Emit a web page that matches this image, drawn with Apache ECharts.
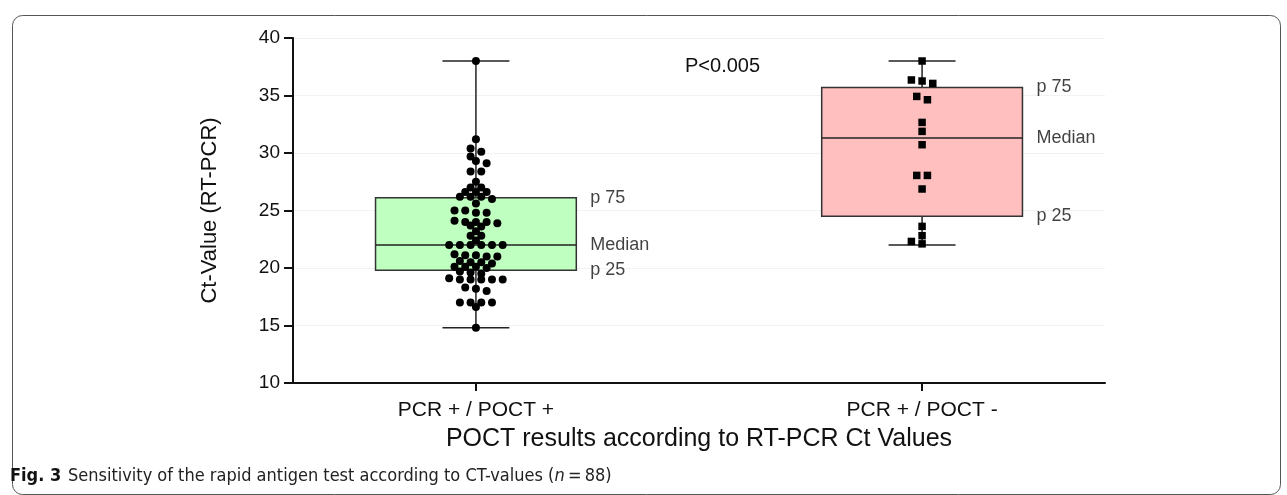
<!DOCTYPE html>
<html>
<head>
<meta charset="utf-8">
<script src="https://cdn.jsdelivr.net/npm/echarts@6/dist/echarts.min.js"></script>
<style>
html,body{margin:0;padding:0;background:#fff;}
#chart{width:1287px;height:495px;}
</style>
</head>
<body>
<div id="chart"></div>
<script>
// ---------------- DATA ----------------
const categories = ['PCR + / POCT +', 'PCR + / POCT -'];
const categoryPositions = [0, 1];
// Ct values, POCT positive (72 samples)
const posValues = [
  38.0, 31.2, 30.4, 30.1, 29.7, 29.3, 29.1, 28.4, 28.4, 27.5,
  27.0, 27.0, 26.6, 26.6, 26.6, 26.2, 26.2, 26.2, 26.0, 25.6,
  25.0, 25.0, 24.8, 24.8,
  24.1, 24.0, 24.0, 24.0, 23.9, 23.7, 23.6,
  23.2, 22.8, 22.8, 22.4,
  22.0, 22.0, 22.0, 22.0, 22.0, 22.0,
  21.2, 21.1, 21.1, 21.0, 21.0,
  20.6, 20.5, 20.5, 20.4,
  20.1, 20.1, 20.1, 20.0,
  19.7, 19.6, 19.5,
  19.1, 19.0, 19.0, 19.0, 19.0, 19.0,
  18.3, 18.2, 18.0,
  17.0, 17.0, 17.0, 17.0, 16.6,
  14.8
];
// Ct values, POCT negative (16 samples)
const negValues = [
  38.0, 36.35, 36.26, 36.05, 34.92, 34.63, 32.66, 31.88,
  30.72, 28.05, 28.05, 26.87, 23.62, 22.81, 22.31, 22.1
];
// box statistics [min, p25, median, p75, max]
const posBox = [14.8, 19.8, 22.0, 26.1, 38.0];
const negBox = [22.0, 24.5, 31.3, 35.7, 38.0];
const boxLabels = ['p 25', 'Median', 'p 75'];
const yTicks = {min: 10, max: 40, interval: 5};
const pValueText = 'P<0.005';
const yAxisTitle = 'Ct-Value (RT-PCR)';
const xAxisTitle = 'POCT results according to RT-PCR Ct Values';
const captionBold = 'Fig. 3';
const captionText = 'Sensitivity of the rapid antigen test according to CT-values (';
const captionN = 'n';
const captionEnd = '\u2009=\u200988)';

// ---------------- LAYOUT ----------------
const GRID = {left: 293, top: 38, width: 812, height: 345};
const X_MIN = -0.41, X_MAX = 1.41;
const pxPerX = GRID.width / (X_MAX - X_MIN);
const pxPerY = GRID.height / (yTicks.max - yTicks.min);
const BOX_HALF = 0.225;
const CAP_HALF = 0.075;

// row-based scatter ("beeswarm"): close values share a row centred on the category;
// a row may slide half a step sideways to avoid sitting on top of a neighbouring row
function swarm(values, center, spacingPx, tol) {
  const sorted = values.slice().sort((a, b) => b - a);
  const rows = [];
  sorted.forEach(v => {
    const r = rows[rows.length - 1];
    if (r && r[0] - v <= tol + 1e-9) r.push(v); else rows.push([v]);
  });
  const placed = [];
  const out = [];
  rows.forEach(r => {
    const k = r.length;
    const base = r.map((v, i) => (i - (k - 1) / 2) * spacingPx);
    let best = 0, bestScore = Infinity;
    [0, spacingPx / 2, -spacingPx / 2].forEach(shift => {
      if (k >= 6 && shift !== 0) return;
      let score = Math.abs(shift) * 0.01;
      r.forEach((v, i) => {
        const x = base[i] + shift, y = v * pxPerY;
        placed.forEach(p => {
          const dx = Math.abs(p[0] - x), dy = Math.abs(p[1] - y);
          if (dy < 8 && dx < 8) score += (8 - dx) * (8 - dy);
        });
      });
      if (score < bestScore) { bestScore = score; best = shift; }
    });
    r.forEach((v, i) => {
      const x = base[i] + best;
      placed.push([x, v * pxPerY]);
      out.push([center + x / pxPerX, v]);
    });
  });
  return out;
}

const posPoints = swarm(posValues, categoryPositions[0], 10.7, 0.35);
const negPoints = swarm(negValues, categoryPositions[1], 10.7, 0.35);

const boxData = [
  [categoryPositions[0]].concat(posBox),
  [categoryPositions[1]].concat(negBox)
];
const boxColors = ['#bfffbf', '#ffbfbf'];

const labelData = [];
boxData.forEach(b => {
  labelData.push([b[0] + BOX_HALF, b[2], boxLabels[0]]);
  labelData.push([b[0] + BOX_HALF, b[3], boxLabels[1]]);
  labelData.push([b[0] + BOX_HALF, b[4], boxLabels[2]]);
});

const FONT = "'Liberation Sans', Arial, sans-serif";
const CAPFONT = "'Liberation Sans Narrow', 'DejaVu Sans Condensed', sans-serif";

const chart = echarts.init(document.getElementById('chart'), null, {renderer: 'canvas'});

chart.setOption({
  backgroundColor: '#ffffff',
  animation: false,
  grid: {left: GRID.left, top: GRID.top, width: GRID.width, height: GRID.height, containLabel: false, outerBoundsMode: 'none'},
  title: {
    text: pValueText, left: 680, top: 51,
    textStyle: {fontFamily: FONT, fontSize: 20, fontWeight: 'normal', color: '#111'}
  },
  xAxis: {
    type: 'value', min: X_MIN, max: X_MAX,
    splitLine: {show: false},
    axisLine: {show: true, onZero: false, lineStyle: {color: '#111', width: 2}},
    axisTick: {show: true, customValues: categoryPositions, length: 8, lineStyle: {color: '#111', width: 2}},
    axisLabel: {
      show: true, customValues: categoryPositions, margin: 17,
      fontFamily: FONT, fontSize: 21, color: '#111',
      formatter: v => categories[Math.round(v)] || ''
    },
    name: xAxisTitle, nameLocation: 'middle', nameGap: 44,
    nameTextStyle: {fontFamily: FONT, fontSize: 25, color: '#111'}
  },
  yAxis: {
    type: 'value', min: yTicks.min, max: yTicks.max, interval: yTicks.interval,
    axisLine: {show: true, onZero: false, lineStyle: {color: '#111', width: 2}},
    axisTick: {show: true, length: 9, lineStyle: {color: '#111', width: 2}},
    axisLabel: {fontFamily: FONT, fontSize: 19, color: '#111', margin: 13},
    splitLine: {show: true, lineStyle: {color: '#f2f2f2', width: 1}},
    name: yAxisTitle, nameLocation: 'middle', nameGap: 72, nameRotate: 90,
    nameTextStyle: {fontFamily: FONT, fontSize: 22, color: '#111'}
  },
  series: [
    {
      type: 'custom',
      data: boxData,
      z: 2,
      renderItem: function (params, api) {
        const x = api.value(0);
        const mn = api.value(1), q1 = api.value(2), md = api.value(3), q3 = api.value(4), mx = api.value(5);
        const tl = api.coord([x - BOX_HALF, q3]);
        const br = api.coord([x + BOX_HALF, q1]);
        const cMid = api.coord([x, md]);
        const cMin = api.coord([x, mn]);
        const cMax = api.coord([x, mx]);
        const cq1 = api.coord([x, q1]);
        const cq3 = api.coord([x, q3]);
        const capL = api.coord([x - CAP_HALF, mn])[0];
        const capR = api.coord([x + CAP_HALF, mn])[0];
        const lineStyle = {stroke: '#222', lineWidth: 1.5};
        return {
          type: 'group',
          children: [
            {type: 'line', shape: {x1: cMax[0], y1: cMax[1], x2: cq3[0], y2: cq3[1]}, style: lineStyle},
            {type: 'line', shape: {x1: cMin[0], y1: cMin[1], x2: cq1[0], y2: cq1[1]}, style: lineStyle},
            {type: 'line', shape: {x1: capL, y1: cMax[1], x2: capR, y2: cMax[1]}, style: lineStyle},
            {type: 'line', shape: {x1: capL, y1: cMin[1], x2: capR, y2: cMin[1]}, style: lineStyle},
            {type: 'rect', shape: {x: tl[0], y: tl[1], width: br[0] - tl[0], height: br[1] - tl[1]},
              style: {fill: boxColors[params.dataIndex], stroke: '#333', lineWidth: 1.5}},
            {type: 'line', shape: {x1: tl[0], y1: cMid[1], x2: br[0], y2: cMid[1]}, style: lineStyle}
          ]
        };
      }
    },
    {
      type: 'scatter', data: posPoints, symbol: 'circle', symbolSize: 8, z: 5,
      itemStyle: {color: '#000', opacity: 1}
    },
    {
      type: 'scatter', data: negPoints, symbol: 'rect', symbolSize: 7.5, z: 5,
      itemStyle: {color: '#000', opacity: 1}
    },
    {
      type: 'scatter', data: labelData, symbolSize: 0, z: 6, silent: true,
      label: {
        show: true, position: 'right', distance: 14,
        fontFamily: FONT, fontSize: 18, color: '#111',
        formatter: p => p.data[2]
      }
    }
  ],
  graphic: [
    {
      type: 'rect', left: 10, top: 13, silent: true, z: -10,
      shape: {width: 1268, height: 479, r: 10},
      style: {fill: 'none', stroke: '#555', lineWidth: 1}
    },
    {
      type: 'text', left: 10, top: 467, z: 10,
      style: {
        text: '{b|' + captionBold + '}  {t|' + captionText + '}{i|' + captionN + '}{t|' + captionEnd + '}',
        rich: {
          b: {fontFamily: CAPFONT, fontSize: 18, fontWeight: 'bold', fill: '#111'},
          t: {fontFamily: CAPFONT, fontSize: 18, fill: '#222'},
          i: {fontFamily: CAPFONT, fontSize: 18, fontStyle: 'italic', fill: '#222'}
        }
      }
    }
  ]
});
</script>
</body>
</html>
